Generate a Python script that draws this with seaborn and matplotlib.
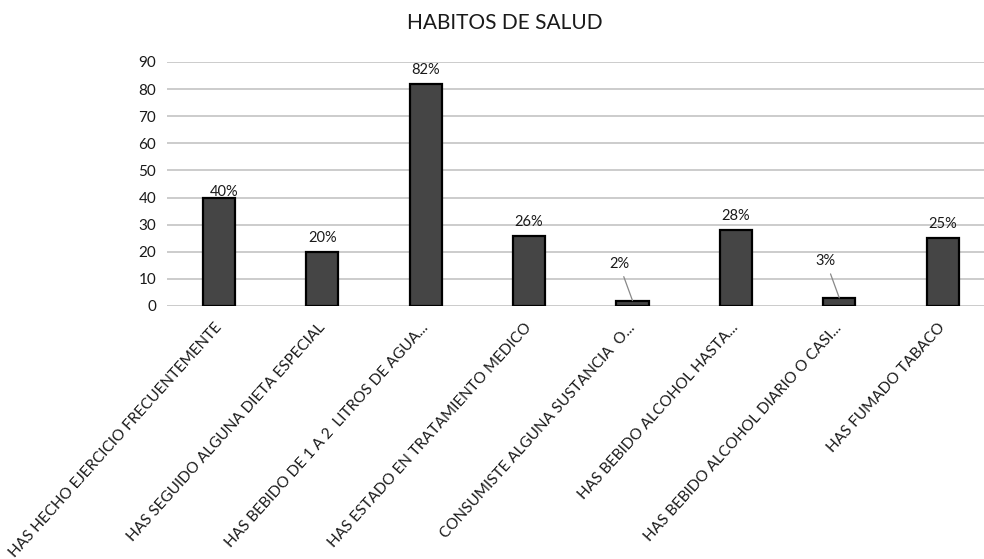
import matplotlib.pyplot as plt
import pandas as pd
import seaborn as sns

CATEGORIES = [
    "HAS HECHO EJERCICIO FRECUENTEMENTE",
    "HAS SEGUIDO ALGUNA DIETA ESPECIAL",
    "HAS BEBIDO DE 1 A 2  LITROS DE AGUA...",
    "HAS ESTADO EN TRATAMIENTO MEDICO",
    "CONSUMISTE ALGUNA SUSTANCIA  O...",
    "HAS BEBIDO ALCOHOL HASTA...",
    "HAS BEBIDO ALCOHOL DIARIO O CASI...",
    "HAS FUMADO TABACO",
]
VALUES = [40, 20, 82, 26, 2, 28, 3, 25]
LABELS = ["40%", "20%", "82%", "26%", "2%", "28%", "3%", "25%"]
Y_TICKS = [0, 10, 20, 30, 40, 50, 60, 70, 80, 90]

sns.set_theme(style="white")
plt.rcParams["font.family"] = ["Lato", "DejaVu Sans"]

df = pd.DataFrame({"item": CATEGORIES, "pct": VALUES})

fig = plt.figure(figsize=(9.84, 5.59), dpi=100)
ax = fig.add_axes([0.170, 0.4526, 0.830, 0.4365])

sns.barplot(data=df, x="item", y="pct", color="#454545", edgecolor="black",
            linewidth=1.6, width=0.31, saturation=1, ax=ax, zorder=3)

ax.set_ylim(0, 90)
ax.set_xlim(-0.5, 7.4)
ax.set_yticks(Y_TICKS)
ax.yaxis.grid(True, color="#cccccc", linewidth=1.4, zorder=0)
for s in ax.spines.values():
    s.set_visible(False)
ax.axhline(0, color="#cccccc", linewidth=1.4, zorder=1)
ax.tick_params(axis="y", labelsize=11, length=0, pad=8, colors="#1a1a1a")
ax.tick_params(axis="x", length=0, pad=14)
ax.set_xticks(range(len(CATEGORIES)))
ax.set_xticklabels(CATEGORIES, rotation=48, ha="right", va="center",
                   rotation_mode="anchor", fontsize=11, color="#1a1a1a")
ax.set_xlabel("")
ax.set_ylabel("")

for i, (v, lab) in enumerate(zip(VALUES, LABELS)):
    if v < 5:
        # small bars: label lifted with a leader line, like the original
        tx, ty = i - 0.13, v + 11
        ax.annotate(lab, xy=(i, v), xytext=(tx, ty), ha="center", va="bottom",
                    fontsize=10.5, color="#1a1a1a",
                    arrowprops=dict(arrowstyle="-", color="#888888", lw=0.9,
                                    shrinkA=2, shrinkB=0))
    elif v == 40:
        ax.text(i + 0.05, v - 0.5, lab, ha="center", va="bottom",
                fontsize=10.5, color="#1a1a1a")
    else:
        ax.text(i, v + 2.5, lab, ha="center", va="bottom",
                fontsize=10.5, color="#1a1a1a")

fig.text(0.513, 0.958, "HABITOS DE SALUD", ha="center", va="center",
         fontsize=15, color="#1a1a1a")

fig.savefig("out.png", dpi=100)
